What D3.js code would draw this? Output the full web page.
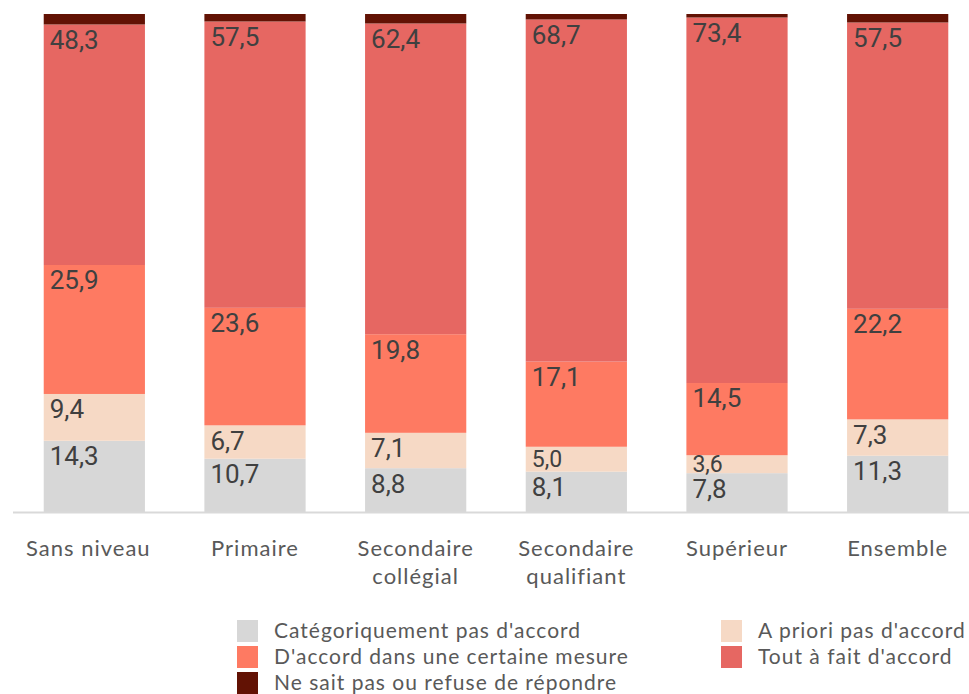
<!DOCTYPE html>
<html>
<head>
<meta charset="utf-8">
<script src="https://cdn.jsdelivr.net/npm/d3@7"></script>
<style>
  body { margin: 0; background: #fff; }
  svg { display: block; }
</style>
</head>
<body>
<svg id="chart" width="969" height="694"></svg>
<script>
"use strict";

const categories = ["Sans niveau", "Primaire", "Secondaire collégial", "Secondaire qualifiant", "Supérieur", "Ensemble"];
const categoryLines = [["Sans niveau"], ["Primaire"], ["Secondaire", "collégial"], ["Secondaire", "qualifiant"], ["Supérieur"], ["Ensemble"]];

const seriesNames = ["Catégoriquement pas d'accord", "A priori pas d'accord", "D'accord dans une certaine mesure", "Tout à fait d'accord", "Ne sait pas ou refuse de répondre"];
const seriesColors = ["#d7d7d7", "#f6d9c5", "#fe7a62", "#e66762", "#621204"];

// values per series, in category order
const categoriquement = [14.3, 10.7, 8.8, 8.1, 7.8, 11.3];
const aPriori = [9.4, 6.7, 7.1, 5.0, 3.6, 7.3];
const dansUneMesure = [25.9, 23.6, 19.8, 17.1, 14.5, 22.2];
const toutAFait = [48.3, 57.5, 62.4, 68.7, 73.4, 57.5];
const neSaitPas = [2.1, 1.5, 1.9, 1.1, 0.7, 1.7];

const seriesValues = [categoriquement, aPriori, dansUneMesure, toutAFait, neSaitPas];
const showLabels = [true, true, true, true, false];

(function () {
    const svg = d3.select("#chart");

    const rows = categories.map((c, i) => {
        const r = { cat: c };
        seriesNames.forEach((s, k) => { r[s] = seriesValues[k][i]; });
        return r;
    });

    const stacked = d3.stack().keys(seriesNames)(rows);

    const x = d3.scaleBand()
        .domain(categories)
        .range([14, 978])
        .paddingInner(0.37)
        .paddingOuter(0.185);

    const y = d3.scaleLinear()
        .domain([0, 100])
        .range([512, 14]);

    const fmt = v => d3.format(".1f")(v).replace(".", ",");

    const layers = svg.append("g")
        .selectAll("g")
        .data(stacked)
        .enter()
        .append("g")
        .attr("fill", (d, i) => seriesColors[i]);

    layers.selectAll("rect")
        .data(d => d)
        .enter()
        .append("rect")
        .attr("x", d => x(d.data.cat))
        .attr("width", x.bandwidth())
        .attr("y", d => y(d[1]))
        .attr("height", d => y(d[0]) - y(d[1]));

    // label size shrinks a bit in thin segments
    const labelSize = d => (y(d[0]) - y(d[1])) < 30 ? 23 : 26;
    const labelY = d => {
        const top = y(d[1]), bottom = y(d[0]);
        const cap = labelSize(d) * 0.71;
        return Math.min(top + 6 + cap, (top + bottom) / 2 + cap / 2);
    };

    // value labels, top-left of each segment
    stacked.forEach((layer, k) => {
        if (!showLabels[k]) return;
        svg.append("g")
            .selectAll("text")
            .data(layer)
            .enter()
            .append("text")
            .attr("x", d => x(d.data.cat) + 6)
            .attr("y", labelY)
            .attr("fill", "#404040")
            .style("font-family", "Roboto, 'DejaVu Sans', sans-serif")
            .style("font-size", d => labelSize(d) + "px")
            .text(d => fmt(d[1] - d[0]));
    });

    // baseline
    svg.append("line")
        .attr("x1", 13)
        .attr("x2", 969)
        .attr("y1", y(0) + 0.5)
        .attr("y2", y(0) + 0.5)
        .attr("stroke", "#d9d9d9")
        .attr("stroke-width", 2);

    // category labels
    const catLabels = svg.append("g")
        .selectAll("text")
        .data(categories)
        .enter()
        .append("text")
        .attr("x", (d, i) => x(d) + x.bandwidth() / 2 - (i === 0 ? 6 : 0))
        .attr("y", 556)
        .attr("text-anchor", "middle")
        .attr("fill", "#595959")
        .style("font-family", "Lato, 'Open Sans', sans-serif")
        .style("font-size", "22px")
        .style("letter-spacing", "1px");

    catLabels.selectAll("tspan")
        .data((d, i) => categoryLines[i])
        .enter()
        .append("tspan")
        .attr("x", function () { return d3.select(this.parentNode).attr("x"); })
        .attr("dy", (d, j) => j === 0 ? 0 : 28)
        .text(d => d);

    // legend
    const legendPos = [
        [237, 620], [721, 620],
        [237, 646], [721, 646],
        [237, 672]
    ];
    const legendOrder = [0, 1, 2, 3, 4];

    const legend = svg.append("g")
        .selectAll("g")
        .data(legendOrder)
        .enter()
        .append("g")
        .attr("transform", (d, i) => `translate(${legendPos[i][0]},${legendPos[i][1]})`);

    legend.append("rect")
        .attr("width", 21)
        .attr("height", 22)
        .attr("fill", d => seriesColors[d]);

    legend.append("text")
        .attr("x", 37)
        .attr("y", 18)
        .attr("fill", "#595959")
        .style("font-family", "Lato, 'Open Sans', sans-serif")
        .style("font-size", "21px")
        .style("letter-spacing", "1px")
        .text(d => seriesNames[d]);
})();
</script>
</body>
</html>
